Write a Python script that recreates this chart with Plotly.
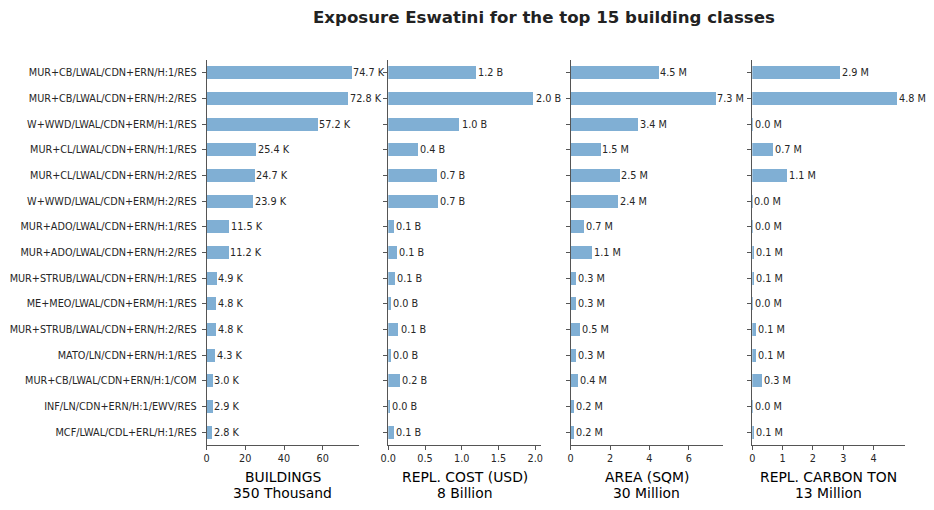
import plotly.graph_objects as go

W, H = 934, 510

categories = [
    "MUR+CB/LWAL/CDN+ERN/H:1/RES",
    "MUR+CB/LWAL/CDN+ERN/H:2/RES",
    "W+WWD/LWAL/CDN+ERM/H:1/RES",
    "MUR+CL/LWAL/CDN+ERN/H:1/RES",
    "MUR+CL/LWAL/CDN+ERN/H:2/RES",
    "W+WWD/LWAL/CDN+ERM/H:2/RES",
    "MUR+ADO/LWAL/CDN+ERN/H:1/RES",
    "MUR+ADO/LWAL/CDN+ERN/H:2/RES",
    "MUR+STRUB/LWAL/CDN+ERN/H:1/RES",
    "ME+MEO/LWAL/CDN+ERM/H:1/RES",
    "MUR+STRUB/LWAL/CDN+ERN/H:2/RES",
    "MATO/LN/CDN+ERN/H:1/RES",
    "MUR+CB/LWAL/CDN+ERN/H:1/COM",
    "INF/LN/CDN+ERN/H:1/EWV/RES",
    "MCF/LWAL/CDL+ERL/H:1/RES",
]

buildings_k = [74.7, 72.8, 57.2, 25.4, 24.7, 23.9, 11.5, 11.2, 4.9, 4.8, 4.8, 4.3, 3.0, 2.9, 2.8]
cost_b = [1.20, 1.98, 0.97, 0.41, 0.67, 0.68, 0.08, 0.12, 0.09, 0.04, 0.14, 0.04, 0.16, 0.02, 0.08]
area_m = [4.46, 7.35, 3.43, 1.50, 2.47, 2.41, 0.68, 1.09, 0.27, 0.27, 0.48, 0.26, 0.37, 0.17, 0.16]
carbon_m = [2.90, 4.78, 0.01, 0.68, 1.14, 0.005, 0.01, 0.06, 0.06, 0.01, 0.12, 0.12, 0.32, 0.01, 0.06]

panels = [
    (buildings_k, "K", [0, 20, 40, 60], ["0", "20", "40", "60"], "BUILDINGS", "350 Thousand"),
    (cost_b, "B", [0, 0.5, 1.0, 1.5, 2.0], ["0.0", "0.5", "1.0", "1.5", "2.0"], "REPL. COST (USD)", "8 Billion"),
    (area_m, "M", [0, 2, 4, 6], ["0", "2", "4", "6"], "AREA (SQM)", "30 Million"),
    (carbon_m, "M", [0, 1, 2, 3, 4], ["0", "1", "2", "3", "4"], "REPL. CARBON TON", "13 Million"),
]

x_px = [(206.5, 358.5), (388.3, 541.0), (570.7, 722.5), (752.3, 904.5)]
y_top, y_bot = 60, 445

BAR = "#80afd4"
AX = "#555555"
TXT = "#262626"
FONT = "DejaVu Sans"

fig = go.Figure()
annotations = []

for i, (vals, unit, tv, tt, t1, t2) in enumerate(panels):
    xa = "x" if i == 0 else f"x{i+1}"
    ya = "y" if i == 0 else f"y{i+1}"
    ys = list(range(len(categories)))
    fig.add_trace(go.Bar(
        x=vals, y=ys, orientation="h",
        width=0.5, marker=dict(color=BAR, line=dict(width=0)),
        xaxis=xa, yaxis=ya, showlegend=False, hoverinfo="skip",
    ))
    for v, yv in zip(vals, ys):
        annotations.append(dict(
            x=v, y=yv, xref=xa, yref=ya, text=f"{v:.1f} {unit}",
            showarrow=False, xanchor="left", yanchor="middle", xshift=0,
            font=dict(family=FONT, size=9.7, color=TXT),
        ))
    x0, x1 = x_px[i]
    dom = [x0 / W, x1 / W]
    xkey = "xaxis" if i == 0 else f"xaxis{i+1}"
    ykey = "yaxis" if i == 0 else f"yaxis{i+1}"
    fig.layout[xkey] = dict(
        domain=dom, range=[0, max(vals) * 1.05], anchor=ya,
        tickvals=tv, ticktext=tt, ticks="outside", ticklen=4, tickwidth=1,
        tickcolor=AX, showline=True, linecolor=AX, linewidth=1,
        showgrid=False, zeroline=False,
        tickfont=dict(family=FONT, size=9.7, color=TXT), automargin=False,
    )
    fig.layout[ykey] = dict(
        domain=[1 - y_bot / H, 1 - y_top / H], range=[14.5, -0.5], anchor=xa,
        tickvals=ys,
        ticktext=categories if i == 0 else [""] * len(categories),
        ticks="outside", ticklen=4, tickwidth=1, tickcolor=AX,
        showline=True, linecolor=AX, linewidth=1, showgrid=False, zeroline=False,
        tickfont=dict(family=FONT, size=9.7, color=TXT), automargin=False,
        ticklabelstandoff=3,
    )
    cx = (x0 + x1) / 2 / W
    annotations.append(dict(x=cx, y=1 - 477 / H, xref="paper", yref="paper", text=t1,
                            showarrow=False, xanchor="center", yanchor="middle",
                            font=dict(family=FONT, size=13.9, color="black")))
    annotations.append(dict(x=cx, y=1 - 493 / H, xref="paper", yref="paper", text=t2,
                            showarrow=False, xanchor="center", yanchor="middle",
                            font=dict(family=FONT, size=13.9, color="black")))

annotations.append(dict(x=544 / W, y=1 - 18 / H, xref="paper", yref="paper",
                        text="<b>Exposure Eswatini for the top 15 building classes</b>",
                        showarrow=False, xanchor="center", yanchor="middle",
                        font=dict(family=FONT, size=16.6, color="#222222")))

fig.update_layout(
    width=W, height=H, margin=dict(l=0, r=0, t=0, b=0),
    paper_bgcolor="white", plot_bgcolor="white",
    annotations=annotations, bargap=0,
)

fig.write_html("out.html")
